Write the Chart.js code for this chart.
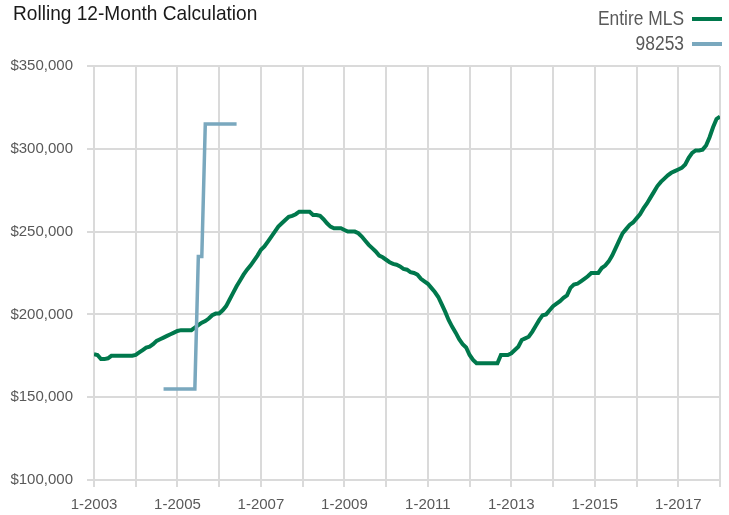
<!DOCTYPE html>
<html>
<head>
<meta charset="utf-8">
<script src="https://cdn.jsdelivr.net/npm/chart.js@4"></script>
<style>
  html, body { margin: 0; padding: 0; background: #fff; }
  #wrap { position: relative; width: 729px; height: 515px; }
</style>
</head>
<body>
<div id="wrap"><canvas id="chart"></canvas></div>
<script>
// chart text
const titleText = 'Rolling 12-Month Calculation';
const seriesNames = ['Entire MLS', '98253'];

// month labels 1-2003 .. 1-2018
const monthLabels = [];
for (let y = 2003; y <= 2018; y++) {
  for (let m = 1; m <= 12; m++) {
    if (monthLabels.length < 181) monthLabels.push(m + '-' + y);
  }
}

// Entire MLS, monthly from 1-2003
const mlsValues = [
  176000, 175500, 173000, 173000, 173500, 175000, 175000, 175000, 175000, 175000, 175000, 175000,
  175500, 177000, 178500, 180000, 180500, 182000, 184000, 185000, 186000, 187000, 188000, 189000,
  190000, 190500, 190500, 190500, 190500, 192000, 193500, 195000, 196000, 197500, 199500, 200500,
  200500, 202500, 205000, 209000, 213000, 217000, 220500, 224000, 227000, 229500, 232500, 235500,
  239000, 241000, 244000, 247000, 250000, 253000, 255000, 257000, 259000, 259500, 260500, 262000,
  262000, 262000, 262000, 260000, 260000, 259500, 257500, 255000, 253000, 252000, 252000, 252000,
  251000, 250000, 250000, 250000, 249000, 247000, 244500, 242000, 240000, 238000, 235500, 234500,
  233000, 231500, 230500, 230000, 229000, 227500, 227000, 225500, 225000, 224000, 221500, 220000,
  218500, 216000, 213500, 210500, 206000, 201500, 196500, 192500, 189000, 185000, 182000, 180000,
  175500, 172500, 170500, 170500, 170500, 170500, 170500, 170500, 170500, 175500, 175500, 175500,
  176500, 178500, 180500, 184500, 185500, 186500, 189500, 193000, 196500, 199500, 200000, 202500,
  205000, 206500, 208000, 210000, 211500, 216000, 218000, 218500, 220000, 221500, 223000, 225000,
  225000, 225000, 228000, 229500, 232000, 235500, 240000, 244500, 249000, 251500, 254000, 255500,
  258000, 260500, 264000, 267000, 270500, 274000, 277500, 280000, 282000, 284000, 285500, 286500,
  287500, 288500, 290500, 294500, 297500, 299000, 299000, 299500, 302000, 307000, 313000, 318000,
  319500
];

// 98253, monthly from 9-2004
const zipFirstMonth = '9-2004';
const zipValues = [
  155000, 155000, 155000, 155000, 155000, 155000, 155000, 155000, 155000, 155000,
  235000, 235000,
  315000, 315000, 315000, 315000, 315000, 315000, 315000, 315000, 315000, 315000
];

const yTickValues = [100000, 150000, 200000, 250000, 300000, 350000];

const FONT = "'Liberation Sans', Arial, sans-serif";
const GREEN = '#00784c';
const BLUE = '#7aa8be';
const GRID = '#dadada';

const mlsPoints = mlsValues.map((v, i) => ({ x: i, y: v }));
const zipOffset = monthLabels.indexOf(zipFirstMonth);
const zipPoints = zipValues.map((v, i) => ({ x: zipOffset + i, y: v }));

// narrow-looking text: draw squeezed horizontally
function squeezedText(ctx, text, x, y, sx) {
  ctx.save();
  ctx.translate(x, y);
  ctx.scale(sx, 1);
  ctx.fillText(text, 0, 0);
  ctx.restore();
}

// title + legend at the top (legend swatch sits right of the text)
const headerPlugin = {
  id: 'header',
  afterDraw(chart) {
    const ctx = chart.ctx;
    ctx.save();
    ctx.font = '21px ' + FONT;
    ctx.fillStyle = '#1a1a1a';
    ctx.textAlign = 'left';
    ctx.textBaseline = 'alphabetic';
    squeezedText(ctx, titleText, 13, 20, 0.91);

    ctx.font = '20px ' + FONT;
    ctx.textAlign = 'right';
    ctx.textBaseline = 'middle';
    chart.data.datasets.forEach((ds, i) => {
      const y = 19 + i * 25;
      ctx.fillStyle = '#595959';
      squeezedText(ctx, ds.label, 684, y, 0.87);
      ctx.strokeStyle = ds.borderColor;
      ctx.lineWidth = 4;
      ctx.beginPath();
      ctx.moveTo(692, y);
      ctx.lineTo(722, y);
      ctx.stroke();
    });
    ctx.restore();
  }
};

new Chart(document.getElementById('chart'), {
  type: 'line',
  data: {
    datasets: [
      {
        label: seriesNames[0],
        data: mlsPoints,
        borderColor: GREEN,
        backgroundColor: GREEN,
        borderWidth: 4,
        pointRadius: 0,
        tension: 0,
        order: 1
      },
      {
        label: seriesNames[1],
        data: zipPoints,
        borderColor: BLUE,
        backgroundColor: BLUE,
        borderWidth: 3.5,
        pointRadius: 0,
        tension: 0,
        order: 0
      }
    ]
  },
  options: {
    responsive: true,
    maintainAspectRatio: false,
    animation: false,
    layout: { padding: { top: 66, right: 7, bottom: 0, left: 0 } },
    plugins: {
      legend: { display: false },
      title: { display: false },
      tooltip: { enabled: false }
    },
    scales: {
      x: {
        type: 'linear',
        min: 0,
        max: monthLabels.length - 1,
        afterFit(scale) { scale.height = 35; },
        grid: { color: GRID, lineWidth: 2, tickLength: 7, tickColor: GRID },
        border: { display: false },
        ticks: {
          stepSize: 12,
          autoSkip: false,
          maxRotation: 0,
          padding: 9,
          color: '#595959',
          font: { family: FONT, size: 15 },
          callback: (v) => (v % 24 === 0 ? monthLabels[v] : '')
        }
      },
      y: {
        min: yTickValues[0],
        max: yTickValues[yTickValues.length - 1],
        afterFit(scale) { scale.width = 94; },
        afterBuildTicks(scale) { scale.ticks = yTickValues.map(v => ({ value: v })); },
        grid: { color: GRID, lineWidth: 2, tickLength: 7, tickColor: GRID },
        border: { display: false },
        ticks: {
          padding: 14,
          color: '#595959',
          font: { family: FONT, size: 15 },
          callback: (v) => '$' + v.toLocaleString('en-US')
        }
      }
    }
  },
  plugins: [headerPlugin]
});
</script>
</body>
</html>
